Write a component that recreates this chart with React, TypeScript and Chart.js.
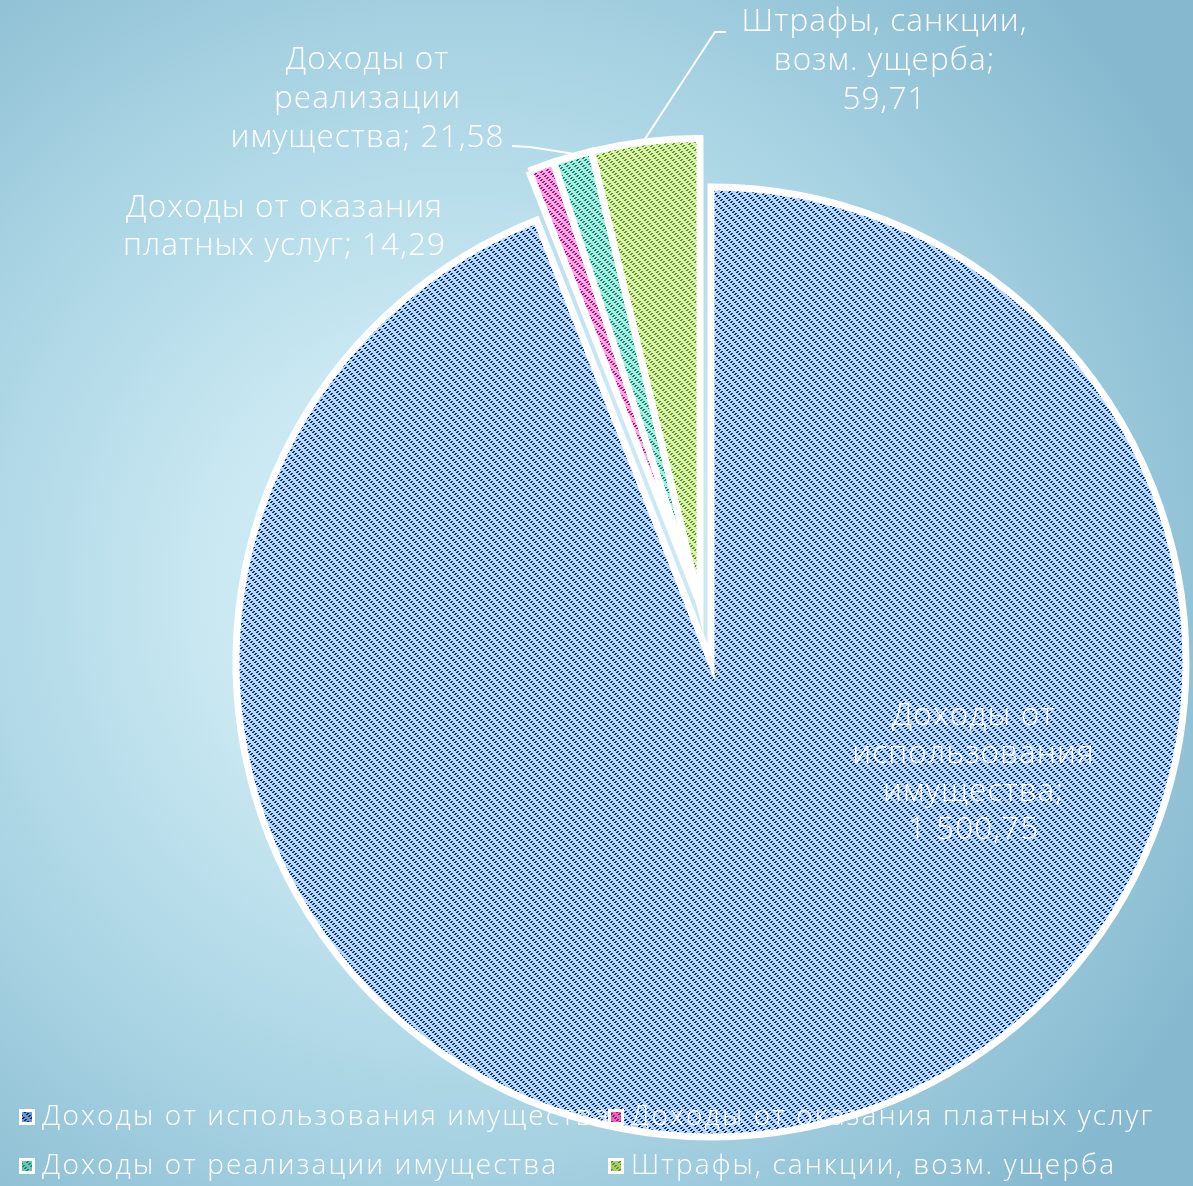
import React, { useEffect, useRef } from 'react';
import { Chart, registerables } from 'chart.js';

Chart.register(...registerables);

// ---- data ----
const categories = [
  'Доходы от использования имущества',
  'Доходы от оказания платных услуг',
  'Доходы от реализации имущества',
  'Штрафы, санкции, возм. ущерба',
];
const values = [1500.75, 14.29, 21.58, 59.71];
const exploded = [false, true, true, true];
// how many words go on each line of the data label
const labelWordsPerLine = [
  [2, 1, 1, 2],
  [3, 3],
  [2, 1, 2],
  [2, 2, 1],
];

// ---- styling / layout ----
const W = 1193;
const H = 1186;
const FONT = '"Open Sans", "DejaVu Sans", sans-serif';
const FONT_WEIGHT = 300;
// letter spacing is chosen so that this line is this wide
const LABEL_FIT = { text: 'Доходы от оказания', width: 317, size: 31.5 };
const LEGEND_FIT = { text: 'Доходы от реализации имущества', width: 516, size: 28 };
const LIGHT = ['#b8d7ff', '#f7a9e2', '#a8ecdf', '#daf0b2'];
const DARK = ['#06306e', '#b30d7e', '#0e8a79', '#5c9a0c'];
const BORDER = 7;
const RADIUS = 475;
const EXPLODED_RADIUS = 465.5;
const EXPLODE_DIST = 59;
const labelLayout = [
  { x: 973, y: 716, lh: 38 },
  { x: 284, y: 208, lh: 38 },
  { x: 367, y: 60, lh: 39 },
  { x: 884, y: 22, lh: 39 },
];
const leaderStart: (null | number[][])[] = [
  null,
  null,
  [[512, 146], [530, 147]],
  [[726, 32], [715, 32]],
];
const legendLayout = [
  { x: 19, y: 1117 },
  { x: 608, y: 1117 },
  { x: 19, y: 1166 },
  { x: 608, y: 1166 },
];

const fmt = (v: number) => {
  const [i, d] = v.toFixed(2).split('.');
  return i.replace(/\B(?=(\d{3})+(?!\d))/g, ' ') + ',' + d;
};

function labelLines(i: number): string[] {
  const words = `${categories[i]}; ${fmt(values[i])}`.split(' ');
  const out: string[] = [];
  let k = 0;
  for (const n of labelWordsPerLine[i]) {
    out.push(words.slice(k, k + n).join(' '));
    k += n;
  }
  if (k < words.length) out[out.length - 1] += ' ' + words.slice(k).join(' ');
  return out;
}

function applyFitFont(ctx: CanvasRenderingContext2D, fit: { text: string; width: number; size: number }) {
  const c = ctx as any;
  c.letterSpacing = '0px';
  ctx.font = `${FONT_WEIGHT} ${fit.size}px ${FONT}`;
  const w = ctx.measureText(fit.text).width || fit.width;
  const ls = Math.max(0, (fit.width - w) / fit.text.length);
  c.letterSpacing = `${ls.toFixed(2)}px`;
  return ls;
}

function makePattern(light: string, dark: string): CanvasPattern | string {
  const c = document.createElement('canvas');
  c.width = 8;
  c.height = 8;
  const g = c.getContext('2d');
  if (!g) return light;
  g.fillStyle = light;
  g.fillRect(0, 0, 8, 8);
  g.fillStyle = dark;
  for (let y = 0; y < 8; y++) {
    for (let x = 0; x < 8; x++) {
      if ((x + y) % 4 < 2 && (x - y + 16) % 8 < 4) g.fillRect(x, y, 1, 1);
    }
  }
  return g.createPattern(c, 'repeat') || light;
}

const backgroundPlugin = {
  id: 'bgGradient',
  beforeDraw(chart: any) {
    const ctx = chart.ctx as CanvasRenderingContext2D;
    const g = ctx.createRadialGradient(460, 590, 0, 460, 590, 840);
    g.addColorStop(0, '#dbf2f8');
    g.addColorStop(0.3, '#c9e8f2');
    g.addColorStop(0.65, '#a8d3e3');
    g.addColorStop(1, '#86b9cf');
    ctx.save();
    ctx.fillStyle = g;
    ctx.fillRect(0, 0, chart.width, chart.height);
    ctx.restore();
  },
};

const explodePlugin = {
  id: 'explodeSlices',
  afterDatasetUpdate(chart: any, args: any) {
    const arcs = args.meta.data;
    let s = Infinity;
    let e = -Infinity;
    arcs.forEach((a: any, i: number) => {
      if (exploded[i]) {
        s = Math.min(s, a.startAngle);
        e = Math.max(e, a.endAngle);
      }
    });
    if (!isFinite(s)) return;
    const mid = (s + e) / 2;
    arcs.forEach((a: any, i: number) => {
      if (exploded[i]) {
        a.x += Math.cos(mid) * EXPLODE_DIST;
        a.y += Math.sin(mid) * EXPLODE_DIST;
        a.outerRadius = EXPLODED_RADIUS;
      }
    });
  },
};

const labelPlugin = {
  id: 'sliceLabels',
  afterDatasetsDraw(chart: any) {
    const ctx = chart.ctx as CanvasRenderingContext2D;
    const arcs = chart.getDatasetMeta(0).data;
    ctx.save();
    // leader lines
    ctx.strokeStyle = '#ffffff';
    ctx.lineWidth = 2;
    arcs.forEach((a: any, i: number) => {
      const pts = leaderStart[i];
      if (!pts) return;
      const mid = (a.startAngle + a.endAngle) / 2;
      const ex = a.x + Math.cos(mid) * (a.outerRadius + 3);
      const ey = a.y + Math.sin(mid) * (a.outerRadius + 3);
      ctx.beginPath();
      ctx.moveTo(pts[0][0], pts[0][1]);
      for (let k = 1; k < pts.length; k++) ctx.lineTo(pts[k][0], pts[k][1]);
      ctx.lineTo(ex, ey);
      ctx.stroke();
    });
    // texts
    ctx.fillStyle = '#ffffff';
    ctx.textAlign = 'center';
    ctx.textBaseline = 'middle';
    const ls = applyFitFont(ctx, LABEL_FIT);
    arcs.forEach((_a: any, i: number) => {
      const L = labelLayout[i];
      // letter spacing adds trailing space; shift by half to stay centred
      labelLines(i).forEach((line, k) => ctx.fillText(line, L.x + ls / 2, L.y + k * L.lh));
    });
    ctx.restore();
  },
};

const legendPlugin = {
  id: 'customLegend',
  afterDraw(chart: any) {
    const ctx = chart.ctx as CanvasRenderingContext2D;
    const bg = chart.data.datasets[0].backgroundColor;
    ctx.save();
    applyFitFont(ctx, LEGEND_FIT);
    ctx.textBaseline = 'middle';
    ctx.textAlign = 'left';
    categories.forEach((c, i) => {
      const p = legendLayout[i];
      ctx.fillStyle = '#ffffff';
      ctx.fillRect(p.x, p.y - 8, 16, 16);
      ctx.fillStyle = DARK[i];
      ctx.fillRect(p.x + 3, p.y - 5, 10, 10);
      ctx.fillStyle = bg[i];
      ctx.globalAlpha = 0.6;
      ctx.fillRect(p.x + 3, p.y - 5, 10, 10);
      ctx.globalAlpha = 1;
      ctx.fillStyle = '#ffffff';
      ctx.fillText(c, p.x + 23, p.y);
    });
    ctx.restore();
  },
};

export default function App() {
  const ref = useRef<HTMLCanvasElement | null>(null);
  useEffect(() => {
    if (!ref.current) return;
    const fills = LIGHT.map((l, i) => makePattern(l, DARK[i]));
    const chart = new Chart(ref.current, {
      type: 'pie',
      data: {
        labels: categories,
        datasets: [
          {
            data: values,
            backgroundColor: fills as any,
            borderColor: '#ffffff',
            borderWidth: BORDER,
            borderJoinStyle: 'miter',
            radius: RADIUS,
          } as any,
        ],
      },
      options: {
        responsive: false,
        animation: false,
        radius: RADIUS,
        layout: { padding: { left: 229, top: 138, right: 0, bottom: 0 } },
        plugins: {
          legend: { display: false },
          tooltip: { enabled: false },
          title: { display: false },
        },
        events: [],
      } as any,
      plugins: [backgroundPlugin, explodePlugin, labelPlugin, legendPlugin],
    });
    return () => chart.destroy();
  }, []);
  return (
    <div style={{ position: 'absolute', left: 0, top: 0, width: W, height: H }}>
      <canvas ref={ref} width={W} height={H} style={{ display: 'block' }} />
    </div>
  );
}
